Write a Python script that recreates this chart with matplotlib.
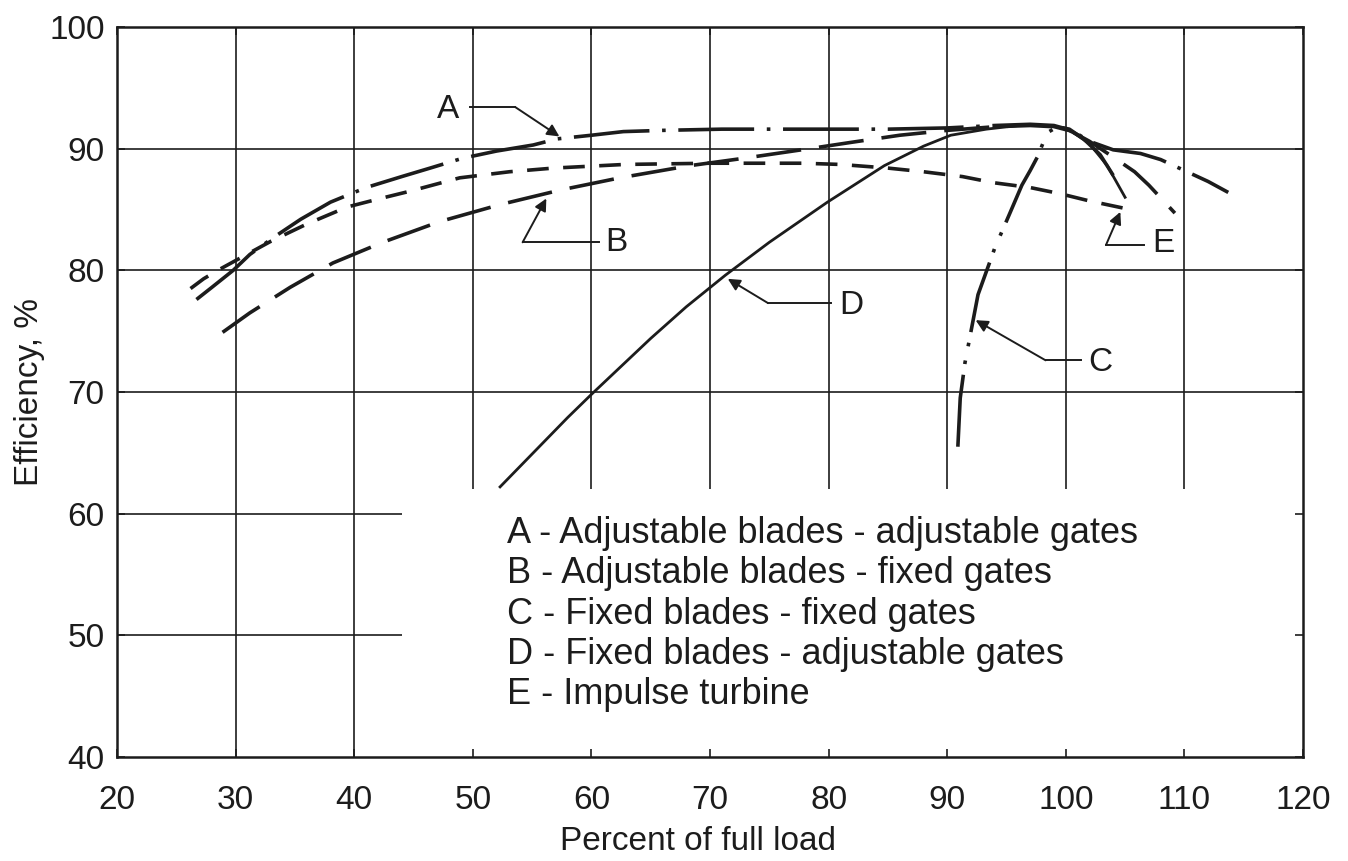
import matplotlib
matplotlib.use("Agg")
import matplotlib.pyplot as plt

plt.rcParams['font.family'] = ['Liberation Sans', 'DejaVu Sans']

# --- data (percent of full load vs efficiency %) ---
load_a = [26.7, 28, 29.8, 31.2, 33.2, 35.5, 38, 41, 44, 46.4, 49.1, 52, 55.1, 57.1, 60,
          62.7, 66, 71, 76, 80, 85, 90, 94, 97, 99, 100.5, 102, 104, 106.3, 108, 110,
          112, 113.7]
eff_a = [77.6, 78.6, 80.0, 81.3, 82.7, 84.2, 85.6, 86.8, 87.7, 88.4, 89.2, 89.8, 90.3,
         90.8, 91.1, 91.4, 91.5, 91.6, 91.6, 91.6, 91.6, 91.7, 91.9, 92.0, 91.9, 91.5,
         90.6, 89.9, 89.6, 89.1, 88.2, 87.3, 86.4]

load_b = [28.9, 31.2, 34.6, 38.2, 42.4, 47.2, 52.3, 57.4, 62.4, 68.3, 72.8, 78.4, 81.8,
          86, 90, 94, 97, 99, 100.5, 102, 104, 105.8, 107, 109.2]
eff_b = [74.9, 76.5, 78.6, 80.6, 82.3, 84.0, 85.4, 86.6, 87.6, 88.6, 89.2, 90.0, 90.5,
         91.1, 91.5, 91.8, 91.9, 91.8, 91.4, 90.6, 89.3, 88.1, 87.0, 84.7]

load_c = [90.9, 91.1, 91.5, 92.6, 93.6, 94.0, 95.2, 96.3, 97.0, 97.6, 98.1, 98.6, 99.3,
          100.3, 101.5, 102.9, 104.0]
eff_c = [65.5, 69.5, 72.4, 78.0, 80.7, 81.8, 84.5, 87.0, 88.2, 89.3, 90.5, 91.4, 91.8,
         91.6, 90.8, 89.5, 87.8]

load_d = [52.3, 55, 58, 60, 62.5, 65, 68, 71.3, 75, 79.9, 84.7, 88, 90.3, 93.3, 96,
          98.5, 100.5, 102, 103.5, 105]
eff_d = [62.2, 64.9, 67.9, 69.8, 72.1, 74.4, 77.0, 79.6, 82.3, 85.6, 88.6, 90.2, 91.1,
         91.6, 91.9, 91.9, 91.4, 90.4, 88.6, 86.0]

load_e = [26.2, 27.3, 28.5, 30, 31.5, 33, 36, 39.4, 42.2, 44.7, 48.9, 53.1, 56.8, 62.8,
          70, 77.8, 81, 85, 88, 91.3, 93.9, 97, 99.5, 102, 105.4]
eff_e = [78.5, 79.3, 80.0, 80.8, 81.6, 82.4, 83.8, 85.2, 85.9, 86.5, 87.6, 88.1, 88.4,
         88.7, 88.8, 88.8, 88.7, 88.4, 88.1, 87.7, 87.2, 86.8, 86.3, 85.7, 85.0]

curve_keys = ['A', 'B', 'C', 'D', 'E']
curve_names = ['Adjustable blades - adjustable gates',
               'Adjustable blades - fixed gates',
               'Fixed blades - fixed gates',
               'Fixed blades - adjustable gates',
               'Impulse turbine']

x_ticks = [20, 30, 40, 50, 60, 70, 80, 90, 100, 110, 120]
y_ticks = [40, 50, 60, 70, 80, 90, 100]

ink = '#1c1c1c'

fig = plt.figure(figsize=(13.48, 8.61), dpi=100)
ax = fig.add_axes([0.0868, 0.1208, 0.8798, 0.8479])
ax.set_xlim(20, 120)
ax.set_ylim(40, 100)

# grid: the lower right part is left blank for the key text
for x in x_ticks[1:-1]:
    ax.vlines(x, 40 if x < 45 else 62, 100, color=ink, lw=1.2, zorder=1)
for y in y_ticks[1:-1]:
    ax.hlines(y, 20, 120 if y >= 70 else 44, color=ink, lw=1.2, zorder=1)

# curves
ax.plot(load_a, eff_a, color=ink, lw=2.6, dashes=(21, 3.5, 1, 3.5), zorder=3)
ax.plot(load_b, eff_b, color=ink, lw=2.6, dashes=(12.5, 5), zorder=3)
ax.plot(load_c, eff_c, color=ink, lw=2.6, dashes=(20, 3, 1, 4, 1, 3), zorder=3)
ax.plot(load_d, eff_d, color=ink, lw=2.0, zorder=3)
ax.plot(load_e, eff_e, color=ink, lw=2.6, dashes=(6, 4), zorder=3)

# curve labels with leader lines
leaders = {
    'A': dict(text=(47.9, 93.2), path=[(49.8, 93.4), (53.6, 93.4)], tip=(57.3, 91.0)),
    'B': dict(text=(62.1, 82.3), path=[(60.6, 82.3), (54.2, 82.3)], tip=(56.2, 85.9)),
    'C': dict(text=(102.9, 72.4), path=[(101.3, 72.6), (98.3, 72.6)], tip=(92.4, 75.9)),
    'D': dict(text=(81.9, 77.1), path=[(80.2, 77.3), (74.9, 77.3)], tip=(71.5, 79.3)),
    'E': dict(text=(108.2, 82.2), path=[(106.6, 82.1), (103.4, 82.1)], tip=(104.6, 84.8)),
}
for key, ld in leaders.items():
    ax.text(ld['text'][0], ld['text'][1], key, fontsize=24, color=ink,
            ha='center', va='center', zorder=4)
    xs = [p[0] for p in ld['path']]
    ys = [p[1] for p in ld['path']]
    ax.plot(xs, ys, color=ink, lw=1.4, zorder=4)
    ax.annotate('', xy=ld['tip'], xytext=ld['path'][-1],
                arrowprops=dict(arrowstyle='-|>', color=ink, lw=1.4,
                                mutation_scale=18, shrinkA=0, shrinkB=0),
                zorder=4)

# key text
for i, (key, name) in enumerate(zip(curve_keys, curve_names)):
    ax.text(52.9, 57.6 - 3.32 * i, f'{key} - {name}', fontsize=26, color=ink,
            ha='left', va='baseline', zorder=4)

ax.set_xticks(x_ticks)
ax.set_yticks(y_ticks)
ax.tick_params(direction='in', length=6, width=1.2, top=True, right=True,
               labelsize=24, colors=ink)
ax.tick_params(axis='x', pad=20)
ax.tick_params(axis='y', pad=9)
for s in ax.spines.values():
    s.set_linewidth(1.8)
    s.set_color(ink)

ax.set_xlabel('Percent of full load', fontsize=24, color=ink)
ax.xaxis.set_label_coords(0.49, -0.095)
ax.set_ylabel('Efficiency, %', fontsize=24, color=ink)
ax.yaxis.set_label_coords(-0.061, 0.5)

fig.savefig('out.png', dpi=100)
